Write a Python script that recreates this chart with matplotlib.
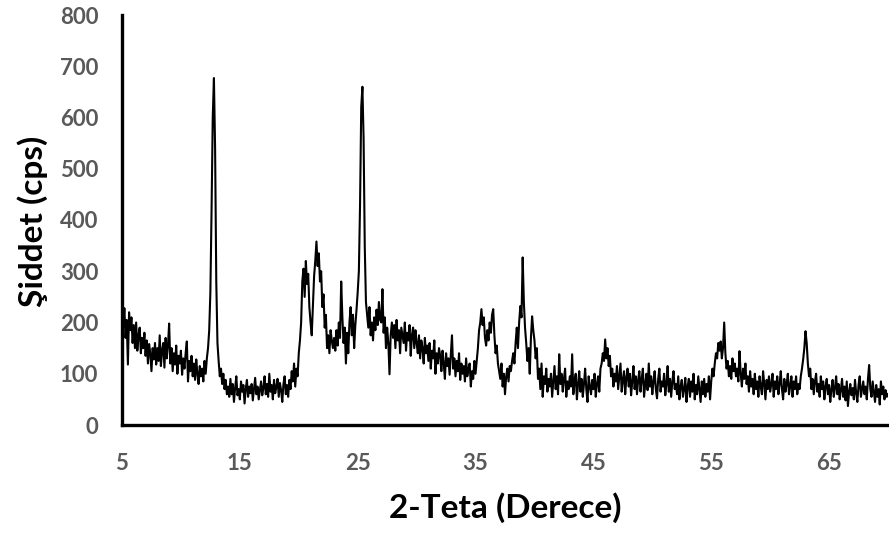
import matplotlib
matplotlib.use("Agg")
import matplotlib.pyplot as plt
import numpy as np

# 2-theta start / step of the scan (degrees)
theta_start = 5.0
theta_step = 0.1

# Intensity values (cps), 10 per degree
int_05 = [215, 190, 228, 170, 205, 118, 220, 185, 210, 160]
int_06 = [195, 150, 200, 145, 175, 190, 140, 170, 150, 180]
int_07 = [135, 165, 120, 158, 140, 105, 150, 128, 160, 118]
int_08 = [150, 125, 175, 115, 145, 160, 112, 170, 130, 155]
int_09 = [198, 120, 150, 105, 140, 118, 155, 100, 135, 120]
int_10 = [145, 98, 130, 110, 140, 163, 85, 125, 105, 135]
int_11 = [95, 120, 88, 128, 100, 80, 115, 95, 110, 85]
int_12 = [125, 100, 130, 150, 185, 260, 420, 600, 677, 540]
int_13 = [280, 160, 125, 95, 110, 80, 100, 70, 88, 60]
int_14 = [75, 55, 90, 60, 80, 45, 72, 95, 58, 70]
int_15 = [50, 85, 65, 78, 42, 70, 88, 55, 75, 62]
int_16 = [80, 48, 70, 92, 60, 75, 50, 68, 85, 58]
int_17 = [72, 95, 60, 80, 55, 100, 65, 78, 50, 88]
int_18 = [62, 75, 90, 55, 82, 68, 45, 80, 95, 60]
int_19 = [78, 55, 88, 70, 105, 85, 120, 75, 110, 95]
int_20 = [140, 165, 200, 280, 305, 250, 320, 275, 295, 230]
int_21 = [200, 175, 230, 290, 320, 358, 310, 335, 280, 300]
int_22 = [230, 255, 190, 215, 150, 175, 140, 185, 165, 150]
int_23 = [170, 145, 185, 155, 200, 170, 280, 210, 160, 190]
int_24 = [120, 180, 140, 200, 230, 175, 215, 150, 195, 225]
int_25 = [259, 300, 430, 620, 660, 560, 348, 240, 215, 190]
int_26 = [230, 175, 200, 165, 210, 185, 225, 195, 240, 205]
int_27 = [200, 265, 180, 210, 150, 190, 160, 99, 175, 200]
int_28 = [170, 195, 150, 205, 165, 185, 140, 190, 175, 160]
int_29 = [200, 145, 180, 165, 195, 135, 175, 190, 150, 185]
int_30 = [160, 140, 175, 130, 165, 150, 120, 170, 140, 155]
int_31 = [125, 160, 110, 145, 130, 165, 100, 140, 120, 150]
int_32 = [135, 105, 145, 120, 90, 140, 115, 130, 98, 135]
int_33 = [175, 110, 130, 95, 125, 105, 140, 88, 120, 100]
int_34 = [115, 85, 130, 95, 110, 120, 75, 105, 90, 125]
int_35 = [100, 125, 150, 185, 200, 226, 195, 210, 170, 155]
int_36 = [185, 165, 200, 180, 215, 226, 175, 140, 155, 120]
int_37 = [105, 90, 120, 75, 100, 60, 95, 110, 85, 115]
int_38 = [105, 125, 140, 120, 160, 190, 150, 200, 232, 210]
int_39 = [327, 240, 190, 160, 125, 150, 100, 170, 212, 185]
int_40 = [165, 130, 150, 90, 110, 70, 120, 55, 95, 80]
int_41 = [110, 65, 90, 75, 100, 55, 85, 115, 70, 95]
int_42 = [60, 138, 80, 100, 65, 90, 110, 55, 85, 70]
int_43 = [95, 75, 138, 60, 85, 100, 50, 80, 105, 65]
int_44 = [90, 55, 80, 110, 70, 45, 95, 75, 60, 88]
int_45 = [70, 100, 55, 80, 95, 65, 110, 120, 140, 125]
int_46 = [167, 130, 150, 115, 135, 95, 110, 75, 100, 85]
int_47 = [115, 70, 95, 120, 65, 88, 105, 60, 92, 110]
int_48 = [75, 100, 58, 85, 115, 70, 95, 60, 88, 105]
int_49 = [65, 90, 110, 55, 80, 100, 68, 120, 75, 95]
int_50 = [60, 85, 105, 70, 52, 90, 110, 65, 85, 75]
int_51 = [100, 58, 80, 115, 65, 90, 55, 85, 105, 70]
int_52 = [80, 60, 95, 50, 75, 88, 55, 70, 92, 45]
int_53 = [75, 90, 55, 85, 65, 100, 50, 78, 60, 95]
int_54 = [70, 45, 85, 60, 90, 55, 80, 65, 95, 50]
int_55 = [85, 110, 95, 120, 140, 130, 160, 145, 163, 130]
int_56 = [150, 200, 140, 110, 125, 95, 115, 90, 130, 105]
int_57 = [120, 95, 110, 85, 144, 100, 75, 110, 90, 120]
int_58 = [80, 95, 65, 105, 75, 90, 60, 100, 70, 85]
int_59 = [55, 95, 75, 60, 105, 80, 50, 88, 70, 95]
int_60 = [65, 80, 100, 55, 85, 70, 95, 60, 80, 105]
int_61 = [70, 50, 90, 65, 80, 100, 60, 75, 95, 55]
int_62 = [85, 70, 95, 60, 80, 70, 95, 110, 128, 150]
int_63 = [183, 160, 120, 95, 110, 70, 90, 60, 85, 100]
int_64 = [65, 80, 55, 95, 70, 85, 50, 75, 90, 60]
int_65 = [78, 45, 70, 88, 55, 72, 95, 60, 80, 50]
int_66 = [68, 90, 55, 75, 48, 85, 37, 65, 80, 58]
int_67 = [72, 50, 88, 62, 45, 78, 95, 55, 70, 85]
int_68 = [60, 75, 50, 90, 117, 70, 55, 85, 65, 45]
int_69 = [78, 55, 70, 40, 85, 60, 75, 50, 68, 55]
int_70 = [60]

x_ticks = [5, 15, 25, 35, 45, 55, 65]
y_ticks = [0, 100, 200, 300, 400, 500, 600, 700, 800]
x_title = "2-Teta (Derece)"
y_title = "Şiddet (cps)"

intensity = (int_05 + int_06 + int_07 + int_08 + int_09 + int_10 + int_11 + int_12 +
             int_13 + int_14 + int_15 + int_16 + int_17 + int_18 + int_19 + int_20 +
             int_21 + int_22 + int_23 + int_24 + int_25 + int_26 + int_27 + int_28 +
             int_29 + int_30 + int_31 + int_32 + int_33 + int_34 + int_35 + int_36 +
             int_37 + int_38 + int_39 + int_40 + int_41 + int_42 + int_43 + int_44 +
             int_45 + int_46 + int_47 + int_48 + int_49 + int_50 + int_51 + int_52 +
             int_53 + int_54 + int_55 + int_56 + int_57 + int_58 + int_59 + int_60 +
             int_61 + int_62 + int_63 + int_64 + int_65 + int_66 + int_67 + int_68 +
             int_69 + int_70)
theta = theta_start + theta_step * np.arange(len(intensity))

plt.rcParams['font.family'] = ['Lato', 'DejaVu Sans']

W, H = 889, 535
fig = plt.figure(figsize=(W / 100, H / 100), dpi=100)
ax = fig.add_axes([122 / W, 1 - 425 / H, (888 - 122) / W, (425 - 15) / H])

ax.plot(theta, intensity, color='black', linewidth=1.5)

ax.set_xlim(5, 70)
ax.set_ylim(0, 800)
ax.set_xticks(x_ticks)
ax.set_yticks(y_ticks)

for s in ['top', 'right']:
    ax.spines[s].set_visible(False)
for s in ['left', 'bottom']:
    ax.spines[s].set_linewidth(2.4)
    ax.spines[s].set_color('black')
    ax.spines[s].set_capstyle('projecting')

ax.tick_params(axis='both', length=0, labelsize=16, labelcolor='#595959')
ax.tick_params(axis='x', pad=20)
ax.tick_params(axis='y', pad=17)
for lbl in ax.get_xticklabels() + ax.get_yticklabels():
    lbl.set_fontweight('bold')

fig.text(505 / W, 1 - 508 / H, x_title, ha='center', va='center',
         fontsize=24, fontweight='bold', color='black')
fig.text(33 / W, 1 - 221 / H, y_title, ha='center', va='center', rotation=90,
         fontsize=24, fontweight='bold', color='black')

fig.savefig('out.png', dpi=100)
